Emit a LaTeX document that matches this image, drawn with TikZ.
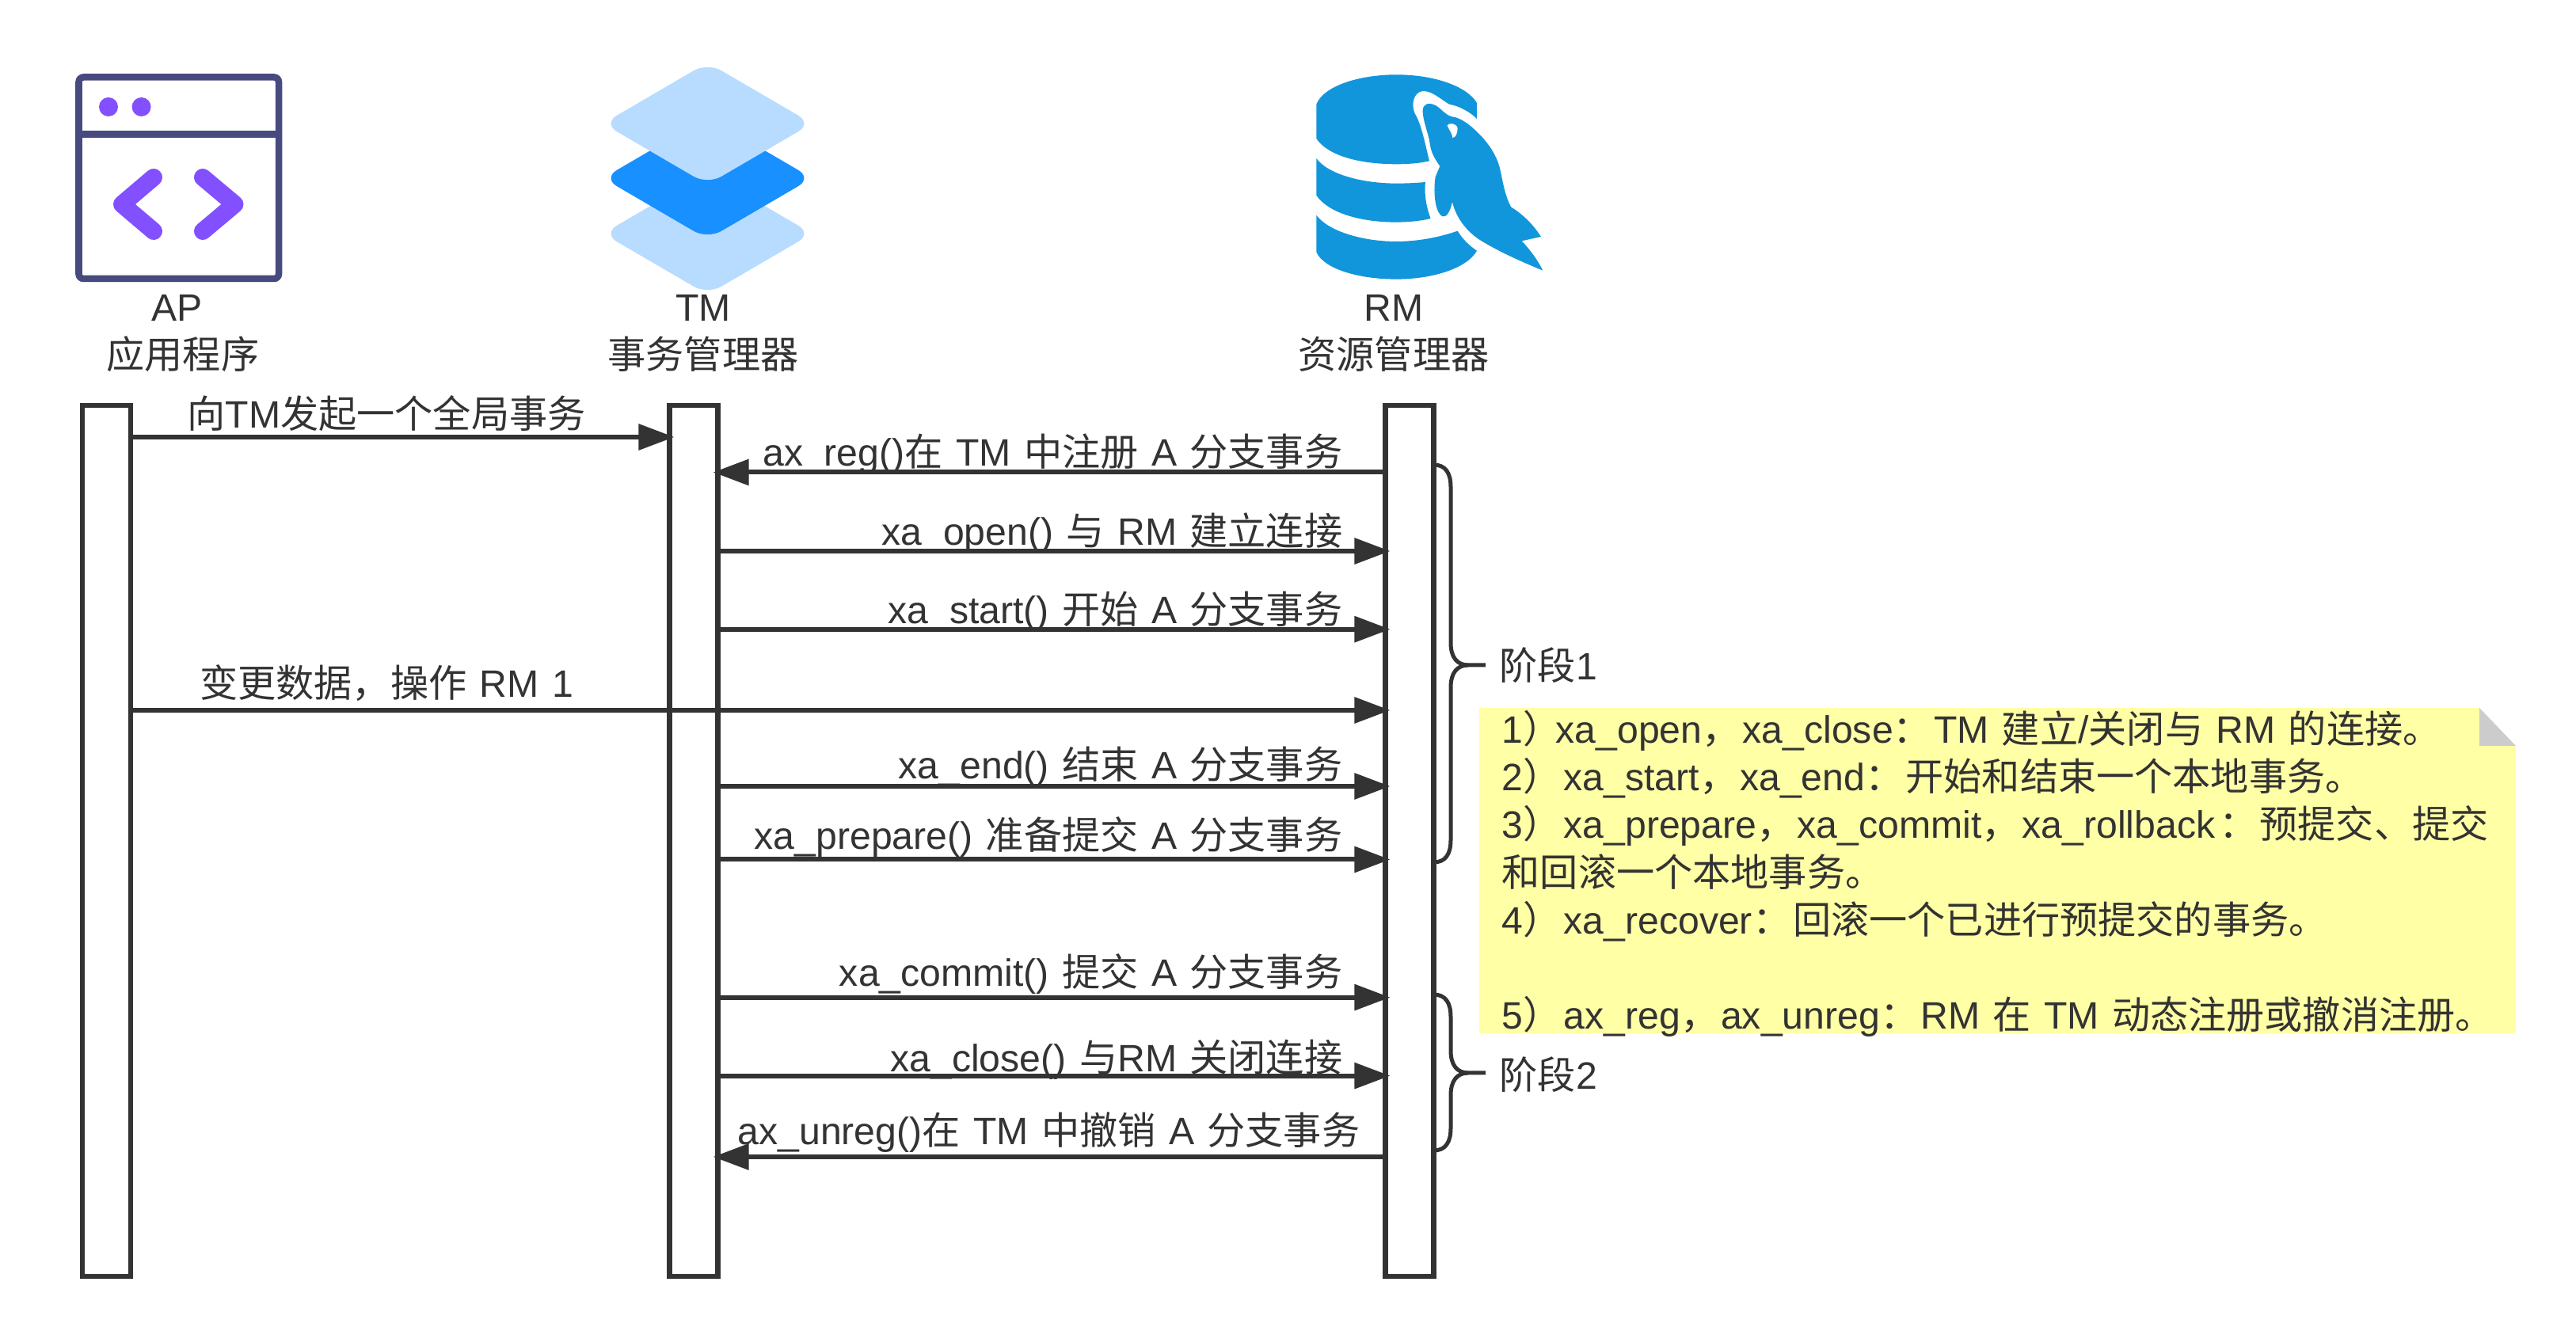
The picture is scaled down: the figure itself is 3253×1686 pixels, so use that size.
\documentclass[tikz,border=0pt]{standalone}
\usepackage{fontspec}
\setmainfont{Liberation Sans}
\newfontfamily\cjk{Noto Sans CJK SC}
\newcommand{\zh}[1]{{\cjk #1}}
\newcommand{\pn}[1]{{\cjk #1}\hspace{0.03cm}}
\newcommand{\labelfont}{\fontsize{13.7}{17.07}\selectfont\spaceskip=0.34em\relax}
\usepackage{xcolor}
\usepackage{tikz}
\usetikzlibrary{arrows.meta}
\definecolor{inkgray}{HTML}{333333}
\definecolor{framecol}{HTML}{474A7E}
\definecolor{violetcol}{HTML}{8250FF}
\definecolor{palecol}{HTML}{B7DCFF}
\definecolor{bluecol}{HTML}{1890FF}
\definecolor{dbcol}{HTML}{1296DB}
\definecolor{notecol}{HTML}{FFFFA6}
\definecolor{foldcol}{HTML}{CCCCCC}
\tikzset{
  lifeline/.style={draw=inkgray,fill=white,line width=0.065cm,minimum width=0.61cm,minimum height=10.99cm,inner sep=0pt,outer sep=0pt},
  msg/.style={draw=inkgray,line width=0.06cm,-{Triangle[length=0.45cm,width=0.32cm]},shorten >=-0.06cm},
  msgtext/.style={text=inkgray,inner sep=0pt,anchor=base east,font=\labelfont},
  toptext/.style={text=inkgray,inner sep=0pt,align=center,font=\labelfont},
  stagebrace/.style={draw=inkgray,line width=0.05cm},
  notetext/.style={text=inkgray,inner sep=0pt,align=left,anchor=north west,font=\labelfont}
}
\begin{document}
\begin{tikzpicture}[x=0.01cm,y=-0.01cm]
\useasboundingbox (0,0) rectangle (3253,1686);
% AP icon
\draw[framecol,line width=0.085cm,rounded corners=0.06cm] (99.5,97.5) rectangle (352,352);
\draw[framecol,line width=0.085cm] (99.5,169.5) -- (352,169.5);
\fill[violetcol] (137,135) circle (12);
\fill[violetcol] (178.6,135) circle (12);
\draw[violetcol,line width=0.22cm,line cap=round,line join=round] (194,224) -- (154,258) -- (194,292);
\draw[violetcol,line width=0.22cm,line cap=round,line join=round] (256,224) -- (296.5,258) -- (256,292);
% TM icon
\fill[palecol,rounded corners=0.2cm] (893.5,218) -- (1025.5,295) -- (893.5,372) -- (761.5,295) -- cycle;
\fill[bluecol,rounded corners=0.2cm] (893.5,148) -- (1025.5,225) -- (893.5,302) -- (761.5,225) -- cycle;
\fill[palecol,rounded corners=0.2cm] (893.5,79) -- (1025.5,156) -- (893.5,233) -- (761.5,156) -- cycle;
% RM icon
\begin{scope}[shift={(1600,60)},scale=0.3333]
\fill[dbcol] (187,215) .. controls (215,145) and (350,103) .. (490,103) .. controls (640,103) and (760,150) .. (795,210) -- (795,270) .. controls (770,245) and (730,222) .. (690,215) .. controls (650,190) and (625,165) .. (590,165) .. controls (555,170) and (545,215) .. (560,250) .. controls (585,290) and (600,370) .. (615,430) .. controls (570,440) and (530,442) .. (490,442) .. controls (350,442) and (230,410) .. (187,345) -- cycle;
\fill[dbcol] (187,420) .. controls (230,480) and (360,515) .. (490,515) .. controls (530,515) and (570,513) .. (600,510) .. controls (595,560) and (605,610) .. (620,648) .. controls (580,658) and (530,662) .. (490,662) .. controls (350,662) and (230,625) .. (187,560) -- cycle;
\fill[dbcol] (187,635) .. controls (230,695) and (360,735) .. (490,735) .. controls (570,735) and (650,720) .. (722,695) .. controls (740,725) and (765,750) .. (795,770) .. controls (760,835) and (630,878) .. (490,878) .. controls (350,878) and (215,840) .. (187,775) -- cycle;
\fill[dbcol] (590,240) .. controls (590,215) and (610,205) .. (640,220) .. controls (660,232) and (675,255) .. (700,262) .. controls (735,265) and (780,300) .. (820,345) .. controls (850,380) and (875,420) .. (885,470) .. controls (895,520) and (905,570) .. (925,605) .. controls (975,635) and (1015,680) .. (1038,717) -- (965,733) .. controls (1000,770) and (1025,805) .. (1045,845) .. controls (960,810) and (870,770) .. (800,725) .. controls (750,690) and (715,640) .. (702,585) .. controls (695,620) and (680,645) .. (665,640) .. controls (640,630) and (628,560) .. (638,490) -- (655,450) .. controls (635,420) and (620,400) .. (615,350) .. controls (605,310) and (590,270) .. (590,240) -- cycle;
\fill[white] (683,295) .. controls (690,285) and (715,285) .. (722,305) .. controls (722,325) and (715,342) .. (703,342) .. controls (700,320) and (690,315) .. (683,295) -- cycle;
\end{scope}
% titles
\node[toptext] (aptext) at (231,421) {AP\hspace*{0.14cm}\\ \zh{应用程序}};
\node[toptext] (tmtext) at (888,421) {TM\\ \zh{事务管理器}};
\node[toptext] (rmtext) at (1760,421) {RM\\ \zh{资源管理器}};
% lifelines
\node[lifeline] (ap) at (134.5,1062) {};
\node[lifeline] (tm) at (876,1062) {};
\node[lifeline] (rm) at (1780,1062) {};
% messages
\draw[msg] (ap.east |- 0,552) -- (tm.west |- 0,552);
\draw[msg] (rm.west |- 0,596.5) -- (tm.east |- 0,596.5);
\draw[msg] (tm.east |- 0,696) -- (rm.west |- 0,696);
\draw[msg] (tm.east |- 0,794.7) -- (rm.west |- 0,794.7);
\draw[msg] (ap.east |- 0,897) -- (rm.west |- 0,897);
\draw[msg] (tm.east |- 0,993) -- (rm.west |- 0,993);
\draw[msg] (tm.east |- 0,1085.5) -- (rm.west |- 0,1085.5);
\draw[msg] (tm.east |- 0,1259.6) -- (rm.west |- 0,1259.6);
\draw[msg] (tm.east |- 0,1358.6) -- (rm.west |- 0,1358.6);
\draw[msg] (rm.west |- 0,1461) -- (tm.east |- 0,1461);
\node[msgtext,anchor=base] (m1) at (488,541) {\zh{向}TM\zh{发起一个全局事务}};
\node[msgtext] (m2) at (1696,589) {ax\_reg()\zh{在} TM \zh{中注册} A \zh{分支事务}};
\node[msgtext] (m3) at (1696,689) {xa\_open() \zh{与} RM \zh{建立连接}};
\node[msgtext] (m4) at (1696,788) {xa\_start() \zh{开始} A \zh{分支事务}};
\node[msgtext,anchor=base] (m5) at (488,881) {\zh{变更数据，操作} RM 1};
\node[msgtext] (m6) at (1696,984) {xa\_end() \zh{结束} A \zh{分支事务}};
\node[msgtext] (m7) at (1696,1073) {xa\_prepare() \zh{准备提交} A \zh{分支事务}};
\node[msgtext] (m8) at (1696,1246) {xa\_commit() \zh{提交} A \zh{分支事务}};
\node[msgtext] (m9) at (1696,1354) {xa\_close() \zh{与}RM \zh{关闭连接}};
\node[msgtext] (m10) at (1718,1446) {ax\_unreg()\zh{在} TM \zh{中撤销} A \zh{分支事务}};
% stages
\node[toptext,anchor=west] (s1) at (1893,840) {\zh{阶段}1};
\node[toptext,anchor=west] (s2) at (1893,1357) {\zh{阶段}2};
\coordinate (s1tip) at (1876,840);
\coordinate (s2tip) at (1876,1355);
\draw[stagebrace] (rm.east |- 0,587) .. controls (1825,587) and (1832,597) .. (1832,615) -- (1832,812) .. controls (1832,830) and (1840,840) .. (1854,840) -- (s1tip);
\draw[stagebrace] (rm.east |- 0,1089) .. controls (1825,1089) and (1832,1079) .. (1832,1061) -- (1832,868) .. controls (1832,850) and (1840,840) .. (1854,840);
\draw[stagebrace] (rm.east |- 0,1256) .. controls (1825,1256) and (1832,1266) .. (1832,1284) -- (1832,1327) .. controls (1832,1345) and (1840,1355) .. (1854,1355) -- (s2tip);
\draw[stagebrace] (rm.east |- 0,1453) .. controls (1825,1453) and (1832,1443) .. (1832,1425) -- (1832,1383) .. controls (1832,1365) and (1840,1355) .. (1854,1355);
% note
\fill[notecol] (1868,894) -- (3131,894) -- (3131,942) -- (3177,942) -- (3177,1305) -- (1868,1305) -- cycle;
\fill[foldcol] (3131,894) -- (3177,942) -- (3131,942) -- cycle;
\node[notetext] (notebody) at (1896,897) {1\zh{）}\hspace{-0.07cm}xa\_open\pn{，}xa\_close\pn{：}TM \zh{建立}/\zh{关闭与} RM \zh{的连接。}\\
2\pn{）}xa\_start\pn{，}xa\_end\pn{：}\zh{开始和结束一个本地事务。}\\
3\pn{）}xa\_prepare\pn{，}xa\_commit\pn{，}xa\_rollback\hspace{0.05cm}\pn{：}\zh{预提交、提交}\\
\zh{和回滚一个本地事务。}\\
4\pn{）}xa\_recover\pn{：}\zh{回滚一个已进行预提交的事务。}\\
\mbox{}\\
5\pn{）}ax\_reg\pn{，}ax\_unreg\pn{：}RM \zh{在} TM \zh{动态注册或撤消注册。}};
\end{tikzpicture}
\end{document}
